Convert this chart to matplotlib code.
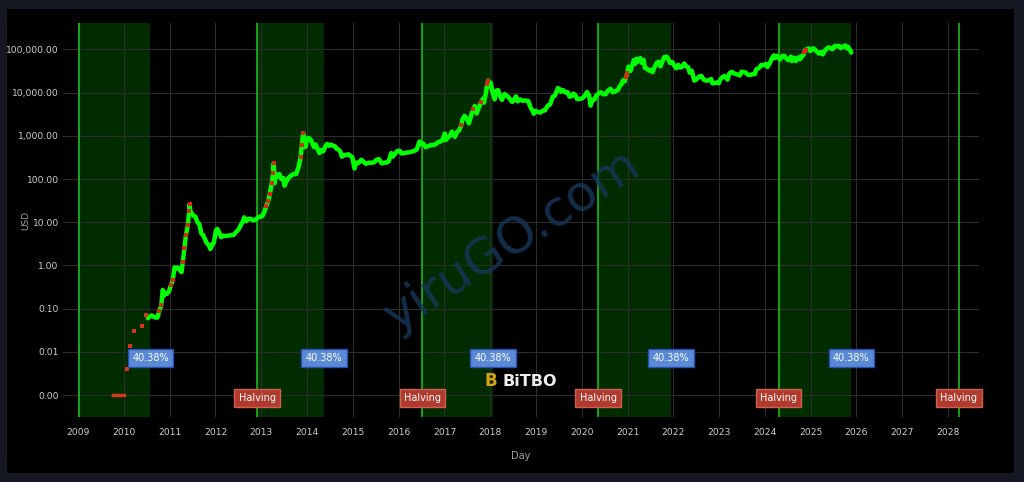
import matplotlib
matplotlib.use("Agg")
import matplotlib.pyplot as plt
from matplotlib.patches import Rectangle
from matplotlib.ticker import FixedLocator, FuncFormatter
import pandas as pd

# ---------------- data ----------------
price_dates = [
 "2010-07-10","2010-07-25","2010-08-10","2010-08-25","2010-09-10","2010-09-25","2010-10-10","2010-10-25",
 "2010-11-06","2010-11-15","2010-11-28","2010-12-10","2010-12-25","2011-01-10","2011-01-25","2011-02-08",
 "2011-02-20","2011-03-05","2011-03-20","2011-04-05","2011-04-15","2011-04-28","2011-05-10","2011-05-25",
 "2011-06-05","2011-06-09","2011-06-15","2011-06-25","2011-07-10","2011-07-25","2011-08-10","2011-08-25",
 "2011-09-10","2011-09-25","2011-10-10","2011-10-25","2011-11-10","2011-11-20","2011-12-05","2011-12-20",
 "2012-01-05","2012-01-15","2012-01-28","2012-02-15","2012-03-01","2012-03-20","2012-04-10","2012-05-01",
 "2012-05-25","2012-06-15","2012-07-01","2012-07-20","2012-08-10","2012-08-17","2012-09-01","2012-09-20",
 "2012-10-10","2012-10-28","2012-11-15","2012-12-05","2012-12-25","2013-01-10","2013-01-25","2013-02-10",
 "2013-02-25","2013-03-10","2013-03-25","2013-04-05","2013-04-10","2013-04-16","2013-04-28","2013-05-10",
 "2013-05-25","2013-06-10","2013-06-25","2013-07-05","2013-07-20","2013-08-05","2013-08-25","2013-09-15",
 "2013-10-05","2013-10-25","2013-11-10","2013-11-20","2013-11-30","2013-12-06","2013-12-18","2013-12-28",
 "2014-01-10","2014-01-25","2014-02-10","2014-02-25","2014-03-10","2014-03-25","2014-04-10","2014-04-25",
 "2014-05-10","2014-05-28","2014-06-10","2014-06-25","2014-07-10","2014-07-25","2014-08-10","2014-08-25",
 "2014-09-10","2014-09-25","2014-10-05","2014-10-25","2014-11-10","2014-11-25","2014-12-10","2014-12-28",
 "2015-01-14","2015-01-28","2015-02-15","2015-03-10","2015-03-28","2015-04-15","2015-05-10","2015-05-28",
 "2015-06-20","2015-07-10","2015-07-28","2015-08-20","2015-09-10","2015-09-28","2015-10-15","2015-11-04",
 "2015-11-15","2015-12-05","2015-12-20","2016-01-10","2016-01-25","2016-02-15","2016-03-05","2016-03-25",
 "2016-04-15","2016-05-05","2016-05-25","2016-06-16","2016-06-28","2016-07-15","2016-08-03","2016-08-25",
 "2016-09-15","2016-10-05","2016-10-25","2016-11-10","2016-11-28","2016-12-15","2017-01-04","2017-01-12",
 "2017-01-28","2017-02-15","2017-03-02","2017-03-25","2017-04-10","2017-04-28","2017-05-15","2017-05-25",
 "2017-06-10","2017-06-28","2017-07-16","2017-08-05","2017-08-20","2017-09-01","2017-09-15","2017-10-01",
 "2017-10-20","2017-11-08","2017-11-12","2017-11-28","2017-12-08","2017-12-17","2017-12-25","2018-01-06",
 "2018-01-17","2018-02-06","2018-02-20","2018-03-05","2018-03-20","2018-04-05","2018-04-25","2018-05-15",
 "2018-06-01","2018-06-25","2018-07-10","2018-07-25","2018-08-10","2018-08-28","2018-09-15","2018-10-10",
 "2018-11-01","2018-11-20","2018-12-05","2018-12-15","2018-12-28","2019-01-15","2019-02-05","2019-02-25",
 "2019-03-15","2019-04-05","2019-04-25","2019-05-15","2019-06-01","2019-06-26","2019-07-10","2019-07-20",
 "2019-08-05","2019-08-25","2019-09-10","2019-09-26","2019-10-15","2019-10-26","2019-11-15","2019-11-25",
 "2019-12-15","2020-01-05","2020-01-25","2020-02-13","2020-03-01","2020-03-12","2020-03-25","2020-04-10",
 "2020-04-29","2020-05-15","2020-06-01","2020-06-20","2020-07-10","2020-07-28","2020-08-17","2020-09-05",
 "2020-09-25","2020-10-15","2020-10-28","2020-11-15","2020-11-25","2020-12-10","2020-12-20","2020-12-31",
 "2021-01-08","2021-01-25","2021-02-10","2021-02-21","2021-03-01","2021-03-13","2021-03-25","2021-04-14",
 "2021-04-25","2021-05-10","2021-05-20","2021-06-01","2021-06-22","2021-07-10","2021-07-20","2021-08-05",
 "2021-08-22","2021-09-06","2021-09-21","2021-10-05","2021-10-20","2021-11-10","2021-11-25","2021-12-05",
 "2021-12-25","2022-01-10","2022-01-24","2022-02-10","2022-02-25","2022-03-10","2022-03-29","2022-04-15",
 "2022-05-01","2022-05-12","2022-05-30","2022-06-18","2022-07-05","2022-07-28","2022-08-14","2022-09-01",
 "2022-09-20","2022-10-10","2022-10-30","2022-11-10","2022-11-25","2022-12-15","2022-12-30","2023-01-15",
 "2023-01-30","2023-02-15","2023-03-10","2023-03-25","2023-04-13","2023-05-01","2023-05-20","2023-06-15",
 "2023-06-30","2023-07-15","2023-08-01","2023-08-20","2023-09-10","2023-09-30","2023-10-15","2023-10-25",
 "2023-11-15","2023-12-05","2023-12-25","2024-01-11","2024-01-23","2024-02-10","2024-02-28","2024-03-14",
 "2024-03-20","2024-04-08","2024-04-20","2024-05-01","2024-05-21","2024-06-05","2024-06-25","2024-07-05",
 "2024-07-29","2024-08-05","2024-08-25","2024-09-06","2024-09-27","2024-10-10","2024-10-29","2024-11-06",
 "2024-11-12","2024-11-22","2024-12-05","2024-12-17","2024-12-30","2025-01-07","2025-01-21","2025-02-03",
 "2025-02-25","2025-03-10","2025-03-25","2025-04-08","2025-04-25","2025-05-10","2025-05-22","2025-06-10",
 "2025-06-22","2025-07-03","2025-07-14","2025-07-30","2025-08-14","2025-08-31","2025-09-18","2025-10-06",
 "2025-10-17","2025-10-28","2025-11-06","2025-11-16","2025-11-21",
]
price_usd = [
 0.06,0.065,0.07,0.065,0.062,0.062,0.09,0.12,
 0.27,0.2,0.23,0.22,0.25,0.35,0.45,0.9,
 0.85,0.9,0.8,0.7,1.2,2.5,5.0,8.5,
 18.0,26.0,18.0,16.0,14.0,13.5,10.0,9.0,
 5.5,5.0,4.0,3.2,3.0,2.4,2.9,3.5,
 6.5,7.0,6.0,4.5,4.9,4.8,4.9,5.0,
 5.1,6.0,6.7,8.5,11.0,13.0,10.5,12.0,
 12.0,11.0,11.5,13.0,13.4,14.0,17.5,24.0,
 31.0,46.0,80.0,140.0,230.0,80.0,130.0,115.0,
 130.0,100.0,105.0,70.0,90.0,105.0,120.0,130.0,
 130.0,190.0,320.0,600.0,1150.0,1000.0,550.0,750.0,
 900.0,850.0,700.0,550.0,630.0,500.0,400.0,470.0,
 440.0,580.0,650.0,590.0,630.0,590.0,580.0,500.0,
 480.0,420.0,330.0,360.0,360.0,375.0,350.0,320.0,
 175.0,240.0,235.0,280.0,250.0,225.0,240.0,237.0,
 245.0,280.0,290.0,230.0,240.0,240.0,260.0,400.0,
 330.0,390.0,440.0,450.0,390.0,400.0,410.0,415.0,
 430.0,450.0,480.0,740.0,640.0,665.0,550.0,580.0,
 610.0,610.0,650.0,710.0,735.0,780.0,1130.0,800.0,
 920.0,1000.0,1250.0,950.0,1200.0,1350.0,1750.0,2400.0,
 2900.0,2500.0,1950.0,3200.0,4100.0,4900.0,3300.0,4400.0,
 6000.0,7400.0,5900.0,9800.0,16000.0,19000.0,14000.0,17000.0,
 11000.0,7000.0,11200.0,11500.0,8500.0,6800.0,9300.0,8500.0,
 7500.0,6100.0,6700.0,8200.0,6300.0,7000.0,6500.0,6600.0,
 6400.0,4500.0,3800.0,3250.0,3800.0,3600.0,3450.0,3800.0,
 3900.0,5000.0,5400.0,8000.0,8500.0,12800.0,12000.0,10500.0,
 11500.0,10100.0,10300.0,8100.0,8300.0,9500.0,8500.0,7100.0,
 7100.0,7400.0,8400.0,10300.0,8600.0,5000.0,6700.0,6900.0,
 8800.0,9500.0,10200.0,9300.0,9200.0,11000.0,12300.0,10200.0,
 10700.0,11500.0,13600.0,16000.0,19000.0,18300.0,23000.0,29000.0,
 40000.0,32000.0,45000.0,57000.0,46000.0,61000.0,52000.0,63500.0,
 49000.0,57000.0,37000.0,36500.0,32500.0,33500.0,29800.0,39000.0,
 49000.0,51800.0,40700.0,51500.0,66000.0,68000.0,58000.0,49000.0,
 51000.0,42000.0,36500.0,44000.0,38000.0,39000.0,47500.0,40500.0,
 38500.0,29000.0,31800.0,19000.0,20200.0,23800.0,24400.0,20000.0,
 19000.0,19200.0,20700.0,16500.0,16500.0,17300.0,16500.0,21000.0,
 23000.0,24500.0,20000.0,28000.0,30400.0,28000.0,26800.0,25000.0,
 30500.0,30200.0,29200.0,26000.0,25800.0,27000.0,27000.0,34500.0,
 37000.0,44000.0,43000.0,46500.0,39500.0,47500.0,62500.0,73000.0,
 63000.0,71500.0,64000.0,58000.0,71000.0,71000.0,61000.0,56500.0,
 68000.0,54000.0,64000.0,54000.0,66000.0,60000.0,72500.0,75000.0,
 88000.0,99000.0,99000.0,106000.0,92500.0,97000.0,106000.0,101000.0,
 86000.0,80000.0,87000.0,77000.0,94000.0,104000.0,111000.0,109000.0,
 101000.0,109000.0,121000.0,118000.0,122000.0,108000.0,117000.0,124000.0,
 107000.0,114000.0,101000.0,94000.0,85000.0,
]

# dates at which the price marker is red (steep rallies)
red_marker_dates = [
 "2010-10-10","2010-10-25","2011-01-10","2011-01-25","2011-04-15","2011-04-28","2011-05-10","2011-05-25",
 "2011-06-05","2011-06-09","2013-02-10","2013-02-25","2013-03-10","2013-03-25","2013-04-05","2013-04-10",
 "2013-11-10","2013-11-20","2013-11-30","2017-05-15","2017-08-20","2017-10-20","2017-12-08","2017-12-17",
 "2020-12-20","2020-12-31","2024-11-12","2024-11-22",
]

# earliest prices (2009-2010), shown in red
early_dates = ["2009-10-05","2009-10-20","2009-11-05","2009-11-20","2009-12-05","2009-12-20","2009-12-28",
               "2010-01-22","2010-02-20","2010-03-20","2010-05-26","2010-06-25"]
early_usd = [0.001,0.001,0.001,0.001,0.001,0.001,0.001,0.004,0.014,0.03,0.04,0.07]

halving_dates = ["2009-01-03","2012-11-28","2016-07-09","2020-05-11","2024-04-20","2028-03-28"]
halving_labels = [None,"Halving","Halving","Halving","Halving","Halving"]
shade_end_dates = ["2010-07-31","2014-05-15","2018-01-25","2021-12-13","2025-11-22"]
shade_label = "40.38%"

y_ticks = [0.001, 0.01, 0.1, 1, 10, 100, 1000, 10000, 100000]
x_years = list(range(2009, 2029))

# ---------------- figure ----------------
W, H, DPI = 1024, 482, 100
fig = plt.figure(figsize=(W / DPI, H / DPI), dpi=DPI, facecolor="#151822")
fig.patches.append(Rectangle((7 / W, 1 - 473 / H), (1014 - 7) / W, (473 - 9) / H,
                             transform=fig.transFigure, facecolor="black", edgecolor="none", zorder=-10))

ax = fig.add_axes([63 / W, 1 - 417 / H, (979 - 63) / W, (417 - 23) / H])
ax.set_zorder(1)
ax.set_facecolor("black")
ax.set_yscale("log")
ax.set_ylim(10 ** -3.509, 10 ** 5.613)
ax.set_xlim(pd.Timestamp("2008-09-01"), pd.Timestamp("2028-09-06"))

for s in ax.spines.values():
    s.set_visible(False)

ax.yaxis.set_major_locator(FixedLocator(y_ticks))
ax.yaxis.set_minor_locator(FixedLocator([]))
ax.yaxis.set_major_formatter(FuncFormatter(lambda v, p: f"{v:,.2f}"))
ax.set_xticks([pd.Timestamp(f"{y}-01-01") for y in x_years])
ax.set_xticklabels([str(y) for y in x_years])
ax.tick_params(axis="both", length=0, labelcolor="#cfcfcf", labelsize=6.6)
ax.tick_params(axis="x", pad=8)
ax.tick_params(axis="y", pad=3)
ax.grid(True, color="#2c2c2c", lw=0.8, zorder=1)
ax.set_axisbelow(True)

ax.set_ylabel("USD", color="#a0a0a0", fontsize=6.5)
ax.yaxis.set_label_coords((30 - 63) / 916, 0.5)
ax.set_xlabel("Day", color="#a0a0a0", fontsize=7)
ax.xaxis.set_label_coords(0.5, -(451 - 417) / 394)

hd = pd.to_datetime(halving_dates)
se = pd.to_datetime(shade_end_dates)
for i, end in enumerate(se):
    ax.axvspan(hd[i], end, color="#002c00", zorder=0.5, lw=0)
for d in hd:
    ax.axvline(d, color="#1ec81e", lw=1.1, zorder=2)

# price series
pdts = pd.to_datetime(price_dates)
ax.plot(pdts, price_usd, color="#00ff00", lw=3.2, solid_joinstyle="round",
        solid_capstyle="round", zorder=4)
lookup = dict(zip(price_dates, price_usd))
ax.scatter(pd.to_datetime(red_marker_dates), [lookup[d] for d in red_marker_dates],
           s=6, marker="s", color="#d42a1a", zorder=5, lw=0)

ed = pd.to_datetime(early_dates)
ax.plot(ed[:7], early_usd[:7], color="#d43a1a", lw=2.5, zorder=4)
ax.scatter(ed[7:], early_usd[7:], s=5, marker="s", color="#d43a1a", zorder=4, lw=0)

# annotations
for end in se:
    ax.text(end, 0.0072, shade_label, ha="center", va="center", fontsize=7, color="white",
            zorder=7, bbox=dict(boxstyle="square,pad=0.45", facecolor="#5a8ad6", edgecolor="#2c4fb0", lw=1))
for d, lab in zip(hd, halving_labels):
    if lab:
        ax.text(d, 0.00085, lab, ha="center", va="center", fontsize=7, color="white",
                zorder=7, bbox=dict(boxstyle="square,pad=0.45", facecolor="#b03a2e", edgecolor="#d0604e", lw=1))

# watermarks
fig.text(0.50, 0.50, "yiruGO.com", rotation=33, ha="center", va="center", fontsize=36,
         color="#163657", alpha=0.85, zorder=8)
fig.text(491 / W, 1 - 381 / H, "B", ha="center", va="center", fontsize=12, color="#d4a418",
         fontweight="bold", zorder=8)
fig.text(502 / W, 1 - 381 / H, "BiTBO", ha="left", va="center", fontsize=11.5, color="#eeeeee",
         fontweight="bold", zorder=8)

fig.savefig("out.png", dpi=DPI, facecolor=fig.get_facecolor())
